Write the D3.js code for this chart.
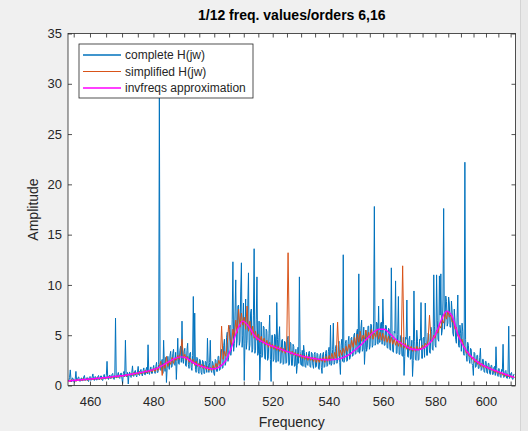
<!DOCTYPE html>
<html><head><meta charset="utf-8">
<script src="https://cdn.jsdelivr.net/npm/d3@7"></script>
<style>
html,body{margin:0;padding:0;background:#f0f0f0;}
svg{display:block;font-family:"Liberation Sans",Arial,Helvetica,sans-serif;}
</style>
</head><body>
<svg id="chart" width="528" height="431"></svg>
<script>
// Labels and ticks
const titleText = "1/12 freq. values/orders 6,16";
const xLabel = "Frequency";
const yLabel = "Amplitude";
const legendLabels = ["complete H(jw)", "simplified H(jw)", "invfreqs approximation"];
const xTickLabels = [460, 480, 500, 520, 540, 560, 580, 600];
const xTickMinor = [455,460,465,470,475,480,485,490,495,500,505,510,515,520,525,530,535,540,545,550,555,560,565,570,575,580,585,590,595,600,605,610];
const yTicks = [0, 5, 10, 15, 20, 25, 30, 35];

// Complete frequency response on a log-spaced grid (453.5 .. 611.5 Hz)
const completeRange = [453.52, 611.54];
const completeH = [
  0.45,0.8,1.55,0.6,0.35,0.75,0.7,0.4,0.3,0.65,1.4,0.45,0.5,0.8,0.85,0.45,0.4,0.7,0.75,0.5,0.45,0.85,1.0,0.55,0.5,0.75,0.8,0.45,0.4,0.8,0.9,0.5,0.55,0.85,1.15,0.6,0.5,0.9,0.85,0.55,
  0.55,0.9,1.0,0.6,0.6,0.95,0.95,0.55,0.5,0.9,1.1,0.65,0.65,1.0,2.4,0.7,0.6,0.95,1.05,0.7,0.7,1.1,1.2,0.75,0.6,1.05,6.7,0.8,0.75,1.1,1.3,0.8,0.7,1.15,1.25,0.75,0.2,1.2,1.4,0.85,
  4.5,1.2,0.85,1.3,0.15,1.1,1.35,0.9,0.8,1.3,1.95,0.95,0.9,1.4,1.5,1.0,0.85,1.35,1.9,1.05,1.0,1.45,1.6,1.1,0.95,1.5,1.75,1.1,1.05,1.55,1.8,1.15,4.05,1.3,1.1,1.6,1.85,1.2,1.2,1.7,
  2.0,1.4,1.2,1.9,2.3,1.3,1.3,2.1,29.5,1.6,1.5,2.4,2.6,1.2,4.5,2.2,1.4,2.8,0.3,1.7,2.9,2.0,1.6,3.0,3.4,1.8,1.9,3.2,3.6,2.1,2.0,3.3,0.6,2.4,4.7,2.2,2.1,3.5,3.9,2.3,
  6.4,2.6,2.2,3.4,3.7,2.0,1.9,3.5,4.2,2.1,1.7,3.2,3.3,1.8,1.5,3.0,8.85,2.2,7.2,1.6,1.3,2.8,2.7,1.4,1.2,2.6,2.5,1.3,1.1,2.5,2.4,1.2,1.2,2.4,2.3,1.3,4.7,2.2,1.3,2.3,
  4.5,1.5,1.3,2.4,2.2,1.2,1.0,2.6,2.5,1.4,1.4,2.9,2.9,1.5,1.6,3.3,3.6,1.7,1.8,4.0,4.6,2.0,2.3,4.8,5.3,2.4,2.8,5.6,6.0,3.0,3.6,6.6,12.3,3.4,4.2,7.4,10.5,3.8,4.5,7.9,
  8.0,4.0,4.4,9.3,12.2,3.8,5.0,8.2,0.5,4.2,8.6,3.6,4.5,7.8,11.2,3.5,4.0,7.2,7.6,3.3,3.6,7.0,13.6,3.2,3.5,6.6,10.8,3.0,3.2,6.4,0.5,3.1,6.3,2.8,3.0,5.9,5.8,2.7,2.6,5.6,
  5.4,2.5,2.7,5.2,7.0,2.6,0.4,5.0,5.0,2.4,2.6,5.1,4.9,2.3,8.25,4.6,2.4,4.8,5.85,2.2,2.3,4.5,4.6,2.1,2.2,4.4,4.3,2.2,2.3,4.6,4.9,2.0,2.1,4.3,4.2,2.0,2.0,4.1,3.9,1.9,
  2.0,3.6,1.2,2.0,3.8,2.2,10.8,3.4,2.1,2.0,3.5,1.9,4.0,3.3,1.9,1.8,3.3,2.1,2.0,3.2,3.4,1.9,1.8,3.3,3.2,2.0,1.7,3.1,3.3,1.8,1.9,3.2,3.1,1.7,1.6,3.0,3.2,1.8,1.2,3.1,
  3.3,1.8,1.9,3.2,3.5,1.9,2.0,3.4,3.8,2.1,6.0,2.0,2.2,3.6,6.2,2.1,2.3,3.7,4.0,2.2,2.4,3.9,4.4,2.3,1.1,4.0,4.6,2.4,13.0,2.3,2.6,4.2,4.5,2.4,2.5,4.4,4.9,2.6,2.8,4.7,
  4.8,2.9,3.0,5.0,5.2,3.1,3.2,5.3,5.6,3.3,11.1,3.2,3.5,5.7,6.5,3.4,3.6,5.8,2.1,3.6,5.5,3.4,3.8,5.9,5.9,3.6,3.9,6.1,6.0,3.8,4.0,6.2,17.8,4.0,4.2,6.3,6.2,4.1,7.9,4.3,
  4.3,6.2,6.3,4.1,8.6,6.1,4.0,4.0,6.0,5.9,3.8,3.7,5.7,5.6,3.6,3.5,11.7,5.4,3.4,3.3,5.4,5.2,10.4,3.2,3.2,5.1,8.85,3.1,3.1,4.9,5.0,3.0,2.9,4.8,1.0,2.9,4.8,4.6,8.5,2.9,
  2.8,4.6,4.9,2.6,2.7,4.5,0.9,2.5,9.4,4.4,2.6,2.5,5.5,4.4,2.5,2.6,4.6,4.5,8.25,2.7,2.7,4.7,4.8,2.8,8.2,4.9,3.0,3.0,5.2,5.1,3.3,3.2,5.8,5.4,3.6,3.5,11.0,5.9,4.0,3.8,
  11.0,6.5,4.6,4.4,10.9,7.0,11.1,5.0,5.5,8.5,17.6,5.6,6.4,8.9,8.35,5.9,6.2,8.8,8.2,5.8,5.8,8.4,7.3,5.2,4.9,7.6,6.5,4.6,4.2,6.8,9.0,4.0,3.8,6.0,5.2,3.4,6.2,5.4,3.2,3.0,
  22.2,4.6,3.0,2.4,4.3,4.0,2.6,2.2,3.7,3.6,2.2,2.0,1.0,3.3,3.2,1.8,1.9,3.0,3.0,1.7,1.7,2.8,3.7,1.5,1.6,2.6,2.6,1.4,1.3,2.4,2.4,1.3,1.2,2.2,2.2,1.2,1.1,2.0,2.0,1.1,
  1.1,1.8,1.9,1.0,3.85,1.7,1.0,0.9,1.7,1.5,0.9,0.8,1.6,1.4,4.1,0.8,0.9,1.4,1.5,0.75,0.7,1.3,5.9,0.7,0.8,1.2,1.3,0.65,0.6,1.1,1.1
];

// Simplified response on a coarser log-spaced grid
const simplifiedRange = [453.52, 611.54];
const simplifiedH = [
  0.5,0.35,0.6,0.45,0.55,0.4,0.65,0.5,0.6,0.45,0.7,0.5,0.65,0.5,0.7,0.55,0.75,0.55,0.7,0.6,
  0.8,0.6,0.75,0.6,0.85,0.65,0.8,0.7,0.9,0.7,0.85,0.75,0.95,0.8,0.9,0.8,1.05,0.85,1.0,0.9,
  1.1,0.9,1.15,1.0,1.2,1.0,1.3,1.05,1.25,1.1,1.4,1.15,1.35,1.2,1.5,1.25,1.45,1.3,1.6,1.35,
  1.7,1.4,1.8,1.5,1.9,2.4,1.0,2.2,1.7,2.9,1.9,2.4,2.1,2.8,2.2,2.7,2.5,3.0,2.6,3.3,
  4.6,2.7,3.1,2.5,2.9,2.3,2.7,2.2,2.6,2.0,2.4,1.9,2.2,1.8,2.1,1.7,2.0,1.6,1.9,1.5,
  1.8,1.5,2.0,1.6,2.2,1.8,2.5,2.1,5.9,2.6,3.4,2.9,4.2,6.0,4.6,4.0,5.6,4.8,6.5,5.2,
  7.6,5.8,7.2,6.0,6.8,5.6,7.9,5.4,6.4,5.0,5.9,4.7,5.4,4.5,5.1,4.3,4.9,4.2,4.7,4.0,
  4.5,3.8,4.3,3.7,4.1,3.6,4.0,3.5,3.9,3.4,3.8,3.3,3.7,3.2,3.6,13.2,3.5,3.1,3.4,3.0,
  3.3,2.9,3.2,2.8,3.1,2.7,3.0,2.6,3.0,2.5,2.9,2.5,2.8,2.4,2.8,2.3,2.7,2.3,2.7,2.4,
  2.8,2.3,2.9,2.4,3.0,2.5,3.2,2.6,3.3,2.7,6.3,2.9,3.5,3.0,3.7,3.2,3.9,3.4,4.1,3.6,
  4.5,3.8,4.8,4.0,5.1,4.3,5.4,4.4,5.0,4.6,5.5,4.5,5.3,4.7,5.6,4.6,5.2,4.8,5.5,4.6,
  5.3,4.5,5.2,4.4,5.0,4.3,4.9,4.2,4.8,4.1,4.6,4.0,4.5,3.9,4.4,3.8,11.9,3.7,4.2,3.6,
  4.0,3.5,3.9,3.4,3.8,3.4,3.9,3.5,3.8,3.6,4.0,3.7,4.2,3.9,4.5,7.0,4.6,4.4,5.0,4.7,
  5.5,5.2,6.0,5.7,6.5,6.2,7.2,6.6,7.4,6.8,7.0,6.3,6.4,5.6,5.8,4.9,5.0,4.4,4.6,4.0,
  3.8,3.2,3.4,2.9,3.0,2.6,2.8,2.3,2.6,2.1,2.4,1.9,2.2,1.8,2.0,1.7,1.9,1.6,1.8,1.5,
  1.6,1.3,1.5,1.2,1.4,1.1,1.3,1.0,1.2,0.9,1.1,0.85,1.0,0.8,0.95,0.75
];

// invfreqs model response
const approxRange = [453.09, 611.54];
const invfreqsApprox = [
  0.45,0.5,0.55,0.6,0.65,0.7,0.75,0.8,0.88,0.95,
  1.0,1.1,1.2,1.3,1.4,1.55,1.75,2.05,2.4,2.7,
  2.85,2.75,2.35,2.05,1.85,1.7,1.65,1.9,2.5,3.8,
  5.5,6.4,5.9,5.0,4.5,4.2,3.95,3.75,3.55,3.35,
  3.15,3.0,2.85,2.75,2.65,2.58,2.55,2.58,2.65,2.85,
  3.15,3.6,4.1,4.7,5.25,5.6,5.6,5.15,4.6,4.2,
  3.85,3.6,3.55,3.75,4.2,5.0,6.4,7.4,6.9,5.1,
  3.9,3.1,2.55,2.15,1.85,1.6,1.4,1.2,1.0,0.8
];

// log-spaced frequency vector, like MATLAB's logspace
function logspace(range, n) {
  const [a, b] = range;
  return d3.range(n).map(i => a * Math.pow(b / a, i / (n - 1)));
}

const colors = ["#0072BD", "#D95319", "#FF00FF"];
const axisColor = "#262626";

const svg = d3.select("#chart");
const plot = {left: 68, right: 515.5, top: 33.5, bottom: 385.5};

const x = d3.scaleLog().domain([453.26, 612.0]).range([plot.left, plot.right]);
const y = d3.scaleLinear().domain([0, 35]).range([plot.bottom, plot.top]);

// window edge strip on the right
svg.append("rect").attr("x", 520).attr("y", 0).attr("width", 8).attr("height", 431).attr("fill", "#e9e9e9");
svg.append("line").attr("x1", 520.5).attr("x2", 520.5).attr("y1", 0).attr("y2", 431).attr("stroke", "#d4d4d4");

// axes background
svg.append("rect")
  .attr("x", plot.left).attr("y", plot.top)
  .attr("width", plot.right - plot.left).attr("height", plot.bottom - plot.top)
  .attr("fill", "#ffffff");

svg.append("defs").append("clipPath").attr("id", "plotClip")
  .append("rect")
  .attr("x", plot.left).attr("y", plot.top)
  .attr("width", plot.right - plot.left).attr("height", plot.bottom - plot.top);

const series = [
  {values: completeH, range: completeRange, color: colors[0], width: 1},
  {values: simplifiedH, range: simplifiedRange, color: colors[1], width: 1},
  {values: invfreqsApprox, range: approxRange, color: colors[2], width: 1.4, smooth: true}
];

const gData = svg.append("g").attr("clip-path", "url(#plotClip)");
series.forEach(s => {
  const freqs = logspace(s.range, s.values.length);
  const pts = s.values.map((v, i) => [freqs[i], v]);
  const line = d3.line()
    .x(d => x(d[0]))
    .y(d => y(d[1]))
    .curve(s.smooth ? d3.curveMonotoneX : d3.curveLinear);
  gData.append("path")
    .datum(pts)
    .attr("fill", "none")
    .attr("stroke", s.color)
    .attr("stroke-width", s.width)
    .attr("stroke-linejoin", "round")
    .attr("d", line);
});

// axes with inward ticks
const tickLen = 4;
const fmtX = d => xTickLabels.includes(d) ? d : "";
const xBottom = svg.append("g").attr("transform", `translate(0,${plot.bottom})`)
  .call(d3.axisBottom(x).tickValues(xTickMinor).tickFormat(fmtX).tickSizeInner(-tickLen).tickSizeOuter(0).tickPadding(11));
const xTop = svg.append("g").attr("transform", `translate(0,${plot.top})`)
  .call(d3.axisTop(x).tickValues(xTickMinor).tickFormat(() => "").tickSizeInner(-tickLen).tickSizeOuter(0));
const yLeft = svg.append("g").attr("transform", `translate(${plot.left},0)`)
  .call(d3.axisLeft(y).tickValues(yTicks).tickSizeInner(-tickLen).tickSizeOuter(0).tickPadding(6));
const yRight = svg.append("g").attr("transform", `translate(${plot.right},0)`)
  .call(d3.axisRight(y).tickValues(yTicks).tickFormat(() => "").tickSizeInner(-tickLen).tickSizeOuter(0));

[xBottom, xTop, yLeft, yRight].forEach(g => {
  g.select(".domain").remove();
  g.selectAll(".tick line").attr("stroke", axisColor).attr("stroke-width", 0.8);
  g.selectAll(".tick text").attr("fill", axisColor).attr("font-size", 13)
    .attr("font-family", "'Liberation Sans', Arial, sans-serif");
});

// axes box
svg.append("rect")
  .attr("x", plot.left).attr("y", plot.top)
  .attr("width", plot.right - plot.left).attr("height", plot.bottom - plot.top)
  .attr("fill", "none").attr("stroke", axisColor).attr("stroke-width", 0.8);

// title and axis labels
svg.append("text")
  .attr("x", (plot.left + plot.right) / 2).attr("y", 20)
  .attr("text-anchor", "middle").attr("font-weight", "bold").attr("font-size", 14)
  .attr("fill", "#000").text(titleText);
svg.append("text")
  .attr("x", (plot.left + plot.right) / 2).attr("y", 427)
  .attr("text-anchor", "middle").attr("font-size", 14).attr("fill", axisColor).text(xLabel);
svg.append("text")
  .attr("transform", `translate(38,${(plot.top + plot.bottom) / 2}) rotate(-90)`)
  .attr("text-anchor", "middle").attr("font-size", 14).attr("fill", axisColor).text(yLabel);

// legend
const legend = svg.append("g").attr("transform", "translate(79,44)");
legend.append("rect").attr("width", 174).attr("height", 54)
  .attr("fill", "#ffffff").attr("stroke", axisColor).attr("stroke-width", 0.8);
const legendWidths = [1.6, 1, 1.6];
legendLabels.forEach((lab, i) => {
  const cy = 11 + i * 16.5;
  legend.append("line").attr("x1", 4).attr("x2", 42).attr("y1", cy).attr("y2", cy)
    .attr("stroke", colors[i]).attr("stroke-width", legendWidths[i]);
  legend.append("text").attr("x", 46).attr("y", cy).attr("dy", "0.35em")
    .attr("font-size", 12).attr("fill", axisColor).text(lab);
});
</script>
</body></html>
